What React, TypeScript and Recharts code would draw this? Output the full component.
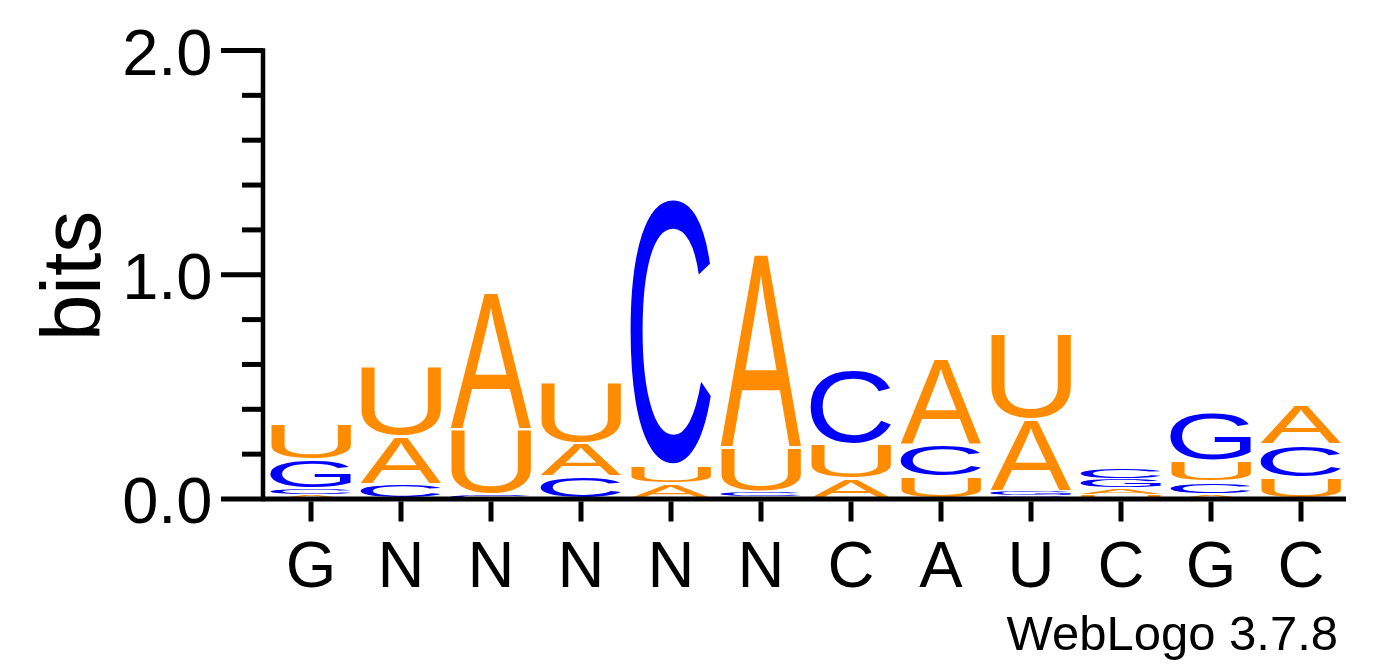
import React from "react";
import { BarChart, Bar, XAxis, YAxis } from "recharts";

const positions = ["G", "N", "N", "N", "N", "N", "C", "A", "U", "C", "G", "C"];
const bitsA = [0.02, 0.215, 0.614, 0.15, 0.067, 0.864, 0.09, 0.384, 0.32, 0.03, 0.022, 0.179];
const bitsC = [0.025, 0.065, 0.02, 0.1, 1.189, 0.02, 0.339, 0.147, 0.015, 0.05, 0.053, 0.147];
const bitsG = [0.13, 0, 0, 0, 0, 0.01, 0, 0, 0.02, 0.04, 0.219, 0];
const bitsU = [0.164, 0.314, 0.29, 0.274, 0.085, 0.2, 0.155, 0.098, 0.384, 0.02, 0.093, 0.095];
const yTicks = [0, 0.2, 0.4, 0.6, 0.8, 1.0, 1.2, 1.4, 1.6, 1.8, 2.0];

const FONT = "'Liberation Sans', Arial, Helvetica, sans-serif";
const COLORS: Record<string, string> = { A: "#FF8C00", U: "#FF8C00", C: "#0000FF", G: "#0000FF" };

// ink box of each glyph, so a letter can be stretched to fill its stack slot
const measureGlyphs = () => {
  const out: Record<string, { l: number; r: number; a: number; d: number }> = {};
  const ctx = document.createElement("canvas").getContext("2d");
  ["A", "C", "G", "U"].forEach((ch) => {
    let m = { l: 0, r: 67, a: 72, d: 1 };
    if (ctx) {
      ctx.font = `100px ${FONT}`;
      const t = ctx.measureText(ch);
      if (t.actualBoundingBoxRight) {
        m = { l: t.actualBoundingBoxLeft, r: t.actualBoundingBoxRight, a: t.actualBoundingBoxAscent, d: t.actualBoundingBoxDescent };
      }
    }
    out[ch] = m;
  });
  return out;
};
const GLYPHS = measureGlyphs();

// stack letters per column, smallest at the bottom
const rows = positions.map((pos, i) => {
  const col = [
    { l: "A", v: bitsA[i] },
    { l: "C", v: bitsC[i] },
    { l: "G", v: bitsG[i] },
    { l: "U", v: bitsU[i] },
  ].sort((a, b) => a.v - b.v);
  const row: any = { pos };
  col.forEach((c, k) => {
    row[`h${k}`] = c.v;
    row[`l${k}`] = c.l;
  });
  return row;
});

const Letter = ({ x, y, width, height, letter }: any) => {
  if (!letter || !height || height < 0.3) return null;
  const m = GLYPHS[letter];
  const inkW = m.l + m.r;
  const inkH = m.a + m.d;
  const pad = Math.min(1.5, height * 0.1);
  const tw = width * 0.9;
  const tx = x + width * 0.05;
  const ty = y + pad;
  const th = height - 2 * pad;
  const sx = tw / inkW;
  const sy = th / inkH;
  return (
    <text
      transform={`translate(${tx},${ty}) scale(${sx},${sy}) translate(${m.l},${m.a})`}
      fontSize={100}
      fontFamily={FONT}
      fill={COLORS[letter]}
    >
      {letter}
    </text>
  );
};

const YTick = ({ x, y, payload }: any) => {
  const v = payload.value;
  const major = Math.abs(v - Math.round(v)) < 1e-6;
  return (
    <g>
      <line x1={x - (major ? 42 : 21)} x2={x} y1={y} y2={y} stroke="#000" strokeWidth={5} />
      {major && (
        <text x={x - 50.5} y={y + 24} textAnchor="end" fontSize={65} fontFamily={FONT} fill="#000">
          {v.toFixed(1)}
        </text>
      )}
    </g>
  );
};

const XTick = ({ x, y, payload }: any) => (
  <g>
    <line x1={x} x2={x} y1={y + 2.5} y2={y + 22.5} stroke="#000" strokeWidth={5} />
    <text x={x} y={y + 88} textAnchor="middle" fontSize={65} fontFamily={FONT} fill="#000">
      {payload.value}
    </text>
  </g>
);

export default function App() {
  return (
    <div style={{ position: "absolute", left: 0, top: 0, width: 1392, height: 667, background: "#fff" }}>
      <BarChart
        width={1392}
        height={667}
        data={rows}
        margin={{ top: 50.5, right: 46, bottom: 68, left: 0 }}
        barCategoryGap={0}
        barGap={0}
      >
        <XAxis
          dataKey="pos"
          height={100}
          padding={{ left: 3, right: 0 }}
          axisLine={{ stroke: "#000", strokeWidth: 5 }}
          tickLine={false}
          tickSize={0}
          tickMargin={0}
          interval={0}
          tick={<XTick />}
        />
        <YAxis
          type="number"
          domain={[0, 2]}
          ticks={yTicks}
          width={263}
          interval={0}
          axisLine={{ stroke: "#000", strokeWidth: 4.5, strokeLinecap: "square" }}
          tickLine={false}
          tickSize={0}
          tickMargin={0}
          tick={<YTick />}
        />
        {[0, 1, 2, 3].map((k) => (
          <Bar
            key={k}
            dataKey={`h${k}`}
            stackId="s"
            isAnimationActive={false}
            shape={(p: any) => <Letter {...p} letter={p.payload[`l${k}`]} />}
          />
        ))}
      </BarChart>
      <svg width={1392} height={667} style={{ position: "absolute", left: 0, top: 0, pointerEvents: "none" }}>
        <text transform="translate(100,276) rotate(-90)" textAnchor="middle" fontSize={84} fontFamily={FONT} fill="#000">
          bits
        </text>
        <text x={1338} y={650} textAnchor="end" fontSize={49} fontFamily={FONT} fill="#000">
          WebLogo 3.7.8
        </text>
      </svg>
    </div>
  );
}
